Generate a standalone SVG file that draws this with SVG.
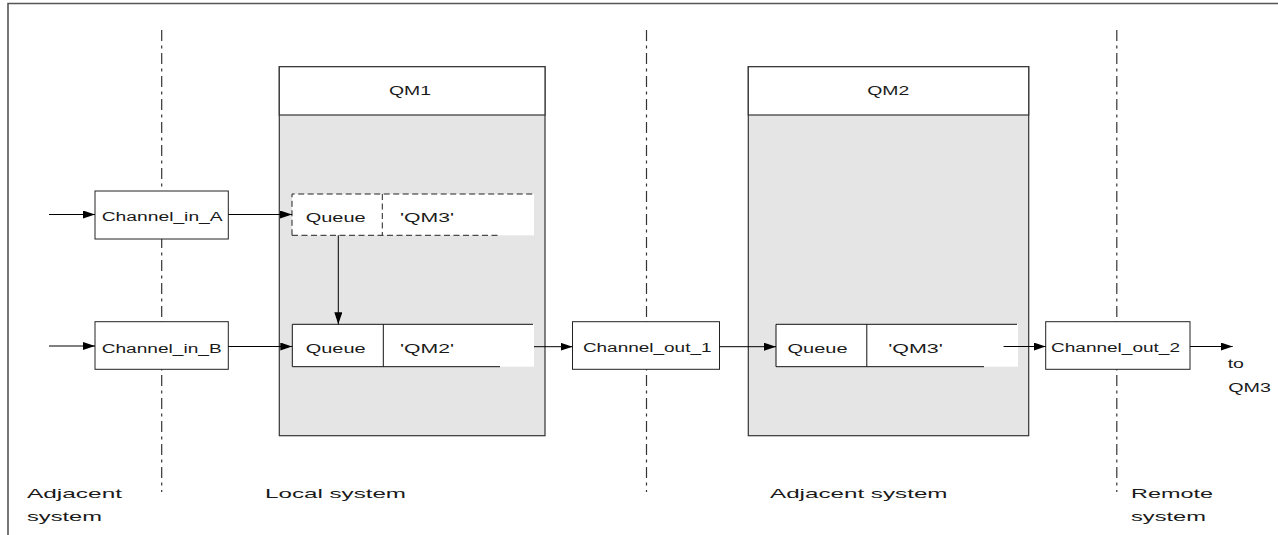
<svg xmlns="http://www.w3.org/2000/svg" width="1278" height="535" viewBox="0 0 1278 535">
<style>
text{font-family:"Liberation Sans",Arial,sans-serif;fill:#1a1a1a}
.n{font-size:12.5px}
.b{font-size:13.5px}
.box{fill:#fff;stroke:#222;stroke-width:1}
.qm{fill:#e5e5e5;stroke:#333;stroke-width:1.2}
.hdr{fill:#fff;stroke:#333;stroke-width:1.2}
.ln{stroke:#111;stroke-width:1;fill:none}
.dl{stroke:#222;stroke-width:1;fill:none;stroke-dasharray:6 3.5}
.sep{stroke:#333;stroke-width:1.2;fill:none;stroke-dasharray:11 4.5 3 4.5}
.con{stroke:#000;stroke-width:1;fill:none;marker-end:url(#ah)}
</style>
<defs>
<marker id="ah" markerUnits="userSpaceOnUse" markerWidth="12" markerHeight="8" refX="12" refY="4" orient="auto">
<path d="M0,0 L12,4 L0,8 z" fill="#000"/>
</marker>
</defs>
<rect x="0" y="0" width="1278" height="535" fill="#fff"/>
<g id="frame">
<path d="M8,535 V3.5 H1278" stroke="#555" stroke-width="1.6" fill="none"/>
</g>
<g id="separators">
<line class="sep" x1="161.7" y1="30" x2="161.7" y2="492"/>
<line class="sep" x1="646.5" y1="30" x2="646.5" y2="492"/>
<line class="sep" x1="1116.8" y1="30" x2="1116.8" y2="492"/>
</g>
<g id="qm1">
<rect class="qm" x="279.3" y="66.7" width="265.7" height="369"/>
<rect class="hdr" x="279.3" y="66.7" width="265.7" height="48.3"/>
<text class="n" x="389" y="95" textLength="42" lengthAdjust="spacingAndGlyphs">QM1</text>
</g>
<g id="qm2">
<rect class="qm" x="748.3" y="66.7" width="280.4" height="369"/>
<rect class="hdr" x="748.3" y="66.7" width="280.4" height="48.3"/>
<text class="n" x="867.3" y="95" textLength="42" lengthAdjust="spacingAndGlyphs">QM2</text>
</g>
<g id="channel_in_a">
<rect class="box" x="95" y="191" width="133.3" height="48"/>
<text class="n" x="101.7" y="221" textLength="121" lengthAdjust="spacingAndGlyphs">Channel_in_A</text>
</g>
<g id="channel_in_b">
<rect class="box" x="95" y="321.7" width="133.3" height="47.6"/>
<text class="n" x="101.7" y="352.7" textLength="120" lengthAdjust="spacingAndGlyphs">Channel_in_B</text>
</g>
<g id="queue_qm3_local">
<rect x="292" y="194" width="242" height="41.3" fill="#fff"/>
<path class="dl" d="M292,235.3 V194 H534"/>
<path class="dl" d="M292,235.3 H499.3"/>
<path class="dl" d="M382.3,194 V235.3"/>
<text class="n" x="305.7" y="221.7" textLength="60" lengthAdjust="spacingAndGlyphs">Queue</text>
<text class="n" x="400" y="221.5" textLength="54" lengthAdjust="spacingAndGlyphs">'QM3'</text>
</g>
<g id="queue_qm2">
<rect x="292" y="324.3" width="242" height="42.4" fill="#fff"/>
<path class="ln" d="M292.3,366.7 V324.3 H533"/>
<path class="ln" d="M292.3,366.7 H500"/>
<path class="ln" d="M383.3,324.3 V366.7"/>
<text class="n" x="305.7" y="353.3" textLength="60" lengthAdjust="spacingAndGlyphs">Queue</text>
<text class="n" x="400" y="353" textLength="54" lengthAdjust="spacingAndGlyphs">'QM2'</text>
</g>
<g id="channel_out_1">
<rect class="box" x="572.5" y="321.7" width="147" height="47.6"/>
<text class="n" x="582.9" y="352.3" textLength="128.6" lengthAdjust="spacingAndGlyphs">Channel_out_1</text>
</g>
<g id="queue_qm3_adjacent">
<rect x="776" y="324.3" width="242" height="42.4" fill="#fff"/>
<path class="ln" d="M776,366.7 V324.3 H1017"/>
<path class="ln" d="M776,366.7 H984"/>
<path class="ln" d="M866.8,324.3 V366.7"/>
<text class="n" x="787.5" y="352.5" textLength="60" lengthAdjust="spacingAndGlyphs">Queue</text>
<text class="n" x="888.2" y="352.5" textLength="54.7" lengthAdjust="spacingAndGlyphs">'QM3'</text>
</g>
<g id="channel_out_2">
<rect class="box" x="1045.7" y="321.7" width="144.3" height="47.6"/>
<text class="n" x="1051" y="351.7" textLength="129" lengthAdjust="spacingAndGlyphs">Channel_out_2</text>
</g>
<g id="connectors">
<line class="con" x1="49" y1="214.5" x2="95" y2="214.5"/>
<line class="con" x1="49" y1="346" x2="95" y2="346"/>
<line class="con" x1="228.3" y1="214.5" x2="292" y2="214.5"/>
<line class="con" x1="228.3" y1="346.5" x2="292.3" y2="346.5"/>
<line class="con" x1="338.3" y1="235.3" x2="338.3" y2="324.3"/>
<line class="con" x1="534" y1="346.7" x2="572.5" y2="346.7"/>
<line class="con" x1="719.5" y1="346.7" x2="776" y2="346.7"/>
<line class="con" x1="1003.6" y1="346.5" x2="1045.7" y2="346.5"/>
<line class="con" x1="1190" y1="346.5" x2="1232.7" y2="346.5"/>
</g>
<g id="labels">
<text class="n" x="1227.7" y="368.3" textLength="16.3" lengthAdjust="spacingAndGlyphs">to</text>
<text class="n" x="1228.3" y="391.7" textLength="42.7" lengthAdjust="spacingAndGlyphs">QM3</text>
<text class="b" x="27" y="497.7" textLength="95" lengthAdjust="spacingAndGlyphs">Adjacent</text>
<text class="b" x="27" y="521" textLength="75" lengthAdjust="spacingAndGlyphs">system</text>
<text class="b" x="265" y="497.5" textLength="141" lengthAdjust="spacingAndGlyphs">Local system</text>
<text class="b" x="770" y="497.5" textLength="177.5" lengthAdjust="spacingAndGlyphs">Adjacent system</text>
<text class="b" x="1131" y="497.5" textLength="82" lengthAdjust="spacingAndGlyphs">Remote</text>
<text class="b" x="1131" y="521" textLength="75" lengthAdjust="spacingAndGlyphs">system</text>
</g>
</svg>
